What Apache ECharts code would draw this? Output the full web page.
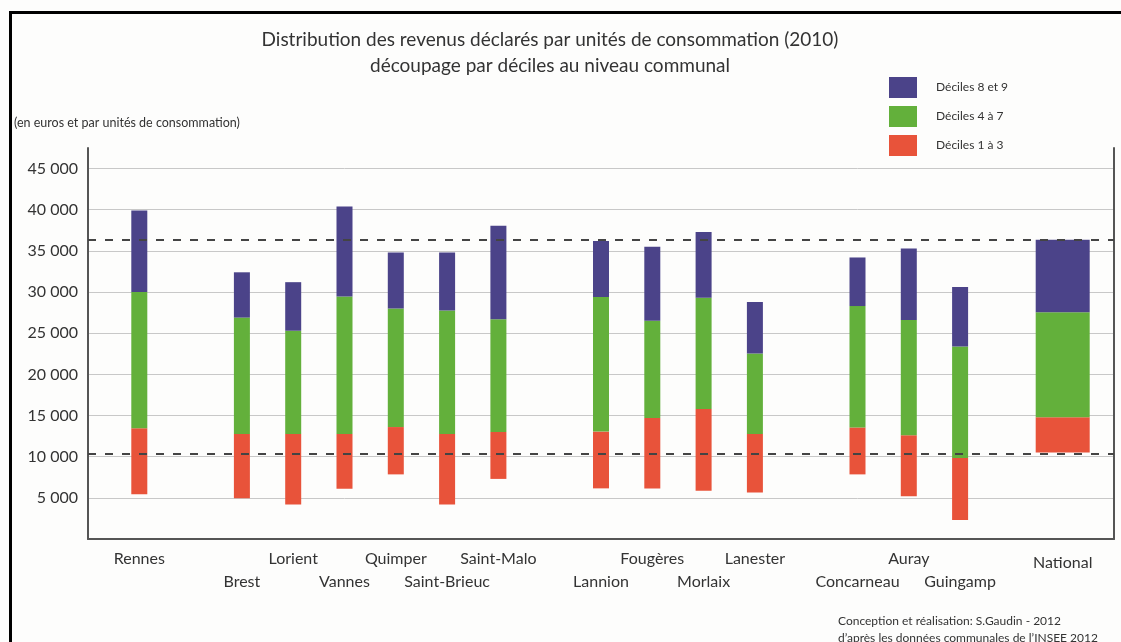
<!DOCTYPE html>
<html>
<head>
<meta charset="utf-8">
<script src="https://cdn.jsdelivr.net/npm/echarts@6/dist/echarts.min.js"></script>
<style>
  html, body { margin: 0; padding: 0; background: #fdfdfc; }
  #chart { width: 1121px; height: 642px; }
</style>
</head>
<body>
<div id="chart"></div>
<script>
// Communes (blank slots separate the groups along the axis)
const categories = ['', 'Rennes', '', 'Brest', 'Lorient', 'Vannes', 'Quimper', 'Saint-Brieuc', 'Saint-Malo', '',
  'Lannion', 'Fougères', 'Morlaix', 'Lanester', '', 'Concarneau', 'Auray', 'Guingamp', '', 'National', ''];

// Decile boundaries (euros per consumption unit, 2010)
const decile1 = [null, 5450, null, 4950, 4200, 6100, 7850, 4200, 7300, null, 6150, 6150, 5850, 5650, null, 7850, 5200, 2300, null, 10500, null];
const decile3 = [null, 13450, null, 12750, 12750, 12750, 13600, 12750, 13000, null, 13050, 14700, 15800, 12750, null, 13550, 12600, 9850, null, 14800, null];
const decile7 = [null, 30000, null, 26900, 25300, 29450, 28000, 27750, 26700, null, 29400, 26500, 29300, 22550, null, 28300, 26600, 23400, null, 27550, null];
const decile9 = [null, 39900, null, 32400, 31200, 40400, 34800, 34800, 38050, null, 36200, 35500, 37300, 28800, null, 34200, 35300, 30600, null, 36350, null];

// National reference levels (dashed lines)
const nationalLevels = [36400, 10300];

const legendNames = ['Déciles 8 et 9', 'Déciles 4 à 7', 'Déciles 1 à 3'];
const colors = { high: '#4b4389', mid: '#63b03b', low: '#e8533a' };

const NATIONAL = 'National';
const FONT = 'Lato, "Noto Sans", sans-serif';

function pick(arr, wantNational) {
  return arr.map((v, i) => {
    if (v == null) return null;
    const isNat = categories[i] === NATIONAL;
    return isNat === wantNational ? v : null;
  });
}
function diff(a, b) {
  return a.map((v, i) => (v == null || b[i] == null) ? null : v - b[i]);
}

function stackSeries(wantNational, axisIndex, width, stackName) {
  const base = pick(decile1, wantNational);
  const low = diff(pick(decile3, wantNational), base);
  const mid = diff(pick(decile7, wantNational), pick(decile3, wantNational));
  const high = diff(pick(decile9, wantNational), pick(decile7, wantNational));
  const common = { type: 'bar', stack: stackName, xAxisIndex: axisIndex, barWidth: width, silent: true, z: 3 };
  return [
    Object.assign({ name: 'base', data: base, itemStyle: { color: 'transparent' } }, common),
    Object.assign({ name: legendNames[2], data: low, itemStyle: { color: colors.low } }, common),
    Object.assign({ name: legendNames[1], data: mid, itemStyle: { color: colors.mid } }, common),
    Object.assign({ name: legendNames[0], data: high, itemStyle: { color: colors.high } }, common)
  ];
}

// Label rows: alternate upper / lower, National centred between
const named = categories.filter(c => c !== '');
function xLabel(value) {
  if (value === '') return '';
  if (value === NATIONAL) return '{n|' + value + '}';
  const k = named.indexOf(value);
  return k % 2 === 0 ? '{a|' + value + '}' : '{a|}\n{a|' + value + '}';
}

function yLabel(v) {
  if (v === 0 || v > 45000) return '';
  return String(v).replace(/\B(?=(\d{3})+(?!\d))/g, ' ');
}

const chart = echarts.init(document.getElementById('chart'), null, { renderer: 'canvas' });

const xAxisBase = {
  type: 'category',
  data: categories,
  boundaryGap: false,
  axisTick: { show: false }
};

const option = {
  backgroundColor: '#fdfdfc',
  animation: false,
  title: {
    text: 'Distribution des revenus déclarés par unités de consommation (2010)\ndécoupage par déciles au niveau communal',
    left: 545,
    top: 22,
    textAlign: 'center',
    textStyle: { fontFamily: FONT, fontSize: 19, fontWeight: 'normal', color: '#333', lineHeight: 26 }
  },
  legend: {
    data: legendNames,
    orient: 'vertical',
    left: 889,
    top: 77,
    padding: 0,
    itemWidth: 28,
    itemHeight: 21,
    itemGap: 8,
    icon: 'rect',
    selectedMode: false,
    textStyle: { fontFamily: FONT, fontSize: 12, color: '#333', padding: [0, 0, 0, 14] }
  },
  grid: { left: 88, right: 7, top: 148, bottom: 103, containLabel: false },
  xAxis: [
    Object.assign({}, xAxisBase, {
      axisLine: { show: true, lineStyle: { color: '#555', width: 2 } },
      axisLabel: {
        interval: 0,
        margin: 8,
        formatter: xLabel,
        rich: {
          a: { fontFamily: FONT, fontSize: 16, color: '#333', lineHeight: 23 },
          n: { fontFamily: FONT, fontSize: 16, color: '#333', lineHeight: 31 }
        }
      }
    }),
    Object.assign({}, xAxisBase, { show: false })
  ],
  yAxis: [
    {
      type: 'value', min: 0, max: 47500, interval: 5000, position: 'left',
      axisLine: { show: true, lineStyle: { color: '#555', width: 2 } },
      axisTick: { show: false },
      axisLabel: { showMaxLabel: false, margin: 10, formatter: yLabel, fontFamily: FONT, fontSize: 16, color: '#333' },
      splitLine: { show: true, showMaxLine: false, lineStyle: { color: '#c8c8c8', width: 1 } }
    },
    {
      type: 'value', min: 0, max: 47500, interval: 5000, position: 'right',
      axisLine: { show: true, lineStyle: { color: '#555', width: 2 } },
      axisTick: { show: false },
      axisLabel: { show: false },
      splitLine: { show: false }
    }
  ],
  graphic: [
    {
      type: 'polyline', silent: true, z: 100,
      shape: { points: [[10.5, 650], [10.5, 12.5], [1130, 12.5]] },
      style: { stroke: '#000', lineWidth: 3, fill: null }
    },
    {
      type: 'text', left: 14, top: 116, silent: true,
      style: { text: '(en euros et par unités de consommation)', font: '12.5px ' + FONT, fill: '#333' }
    },
    {
      type: 'text', left: 838, top: 613, silent: true,
      style: {
        text: 'Conception et réalisation: S.Gaudin - 2012\nd\u2019après les données communales de l\u2019INSEE 2012',
        font: '12px ' + FONT, fill: '#333', lineHeight: 17
      }
    }
  ],
  series: [].concat(
    stackSeries(false, 0, 16, 'communes'),
    stackSeries(true, 1, 54, 'national'),
    [{
      type: 'line', name: 'ref', data: [], silent: true, z: 10,
      markLine: {
        silent: true, symbol: 'none', label: { show: false },
        lineStyle: { color: '#444', width: 2, type: [8, 9] },
        data: nationalLevels.map(v => ({ yAxis: v }))
      }
    }]
  )
};

chart.setOption(option);
</script>
</body>
</html>
